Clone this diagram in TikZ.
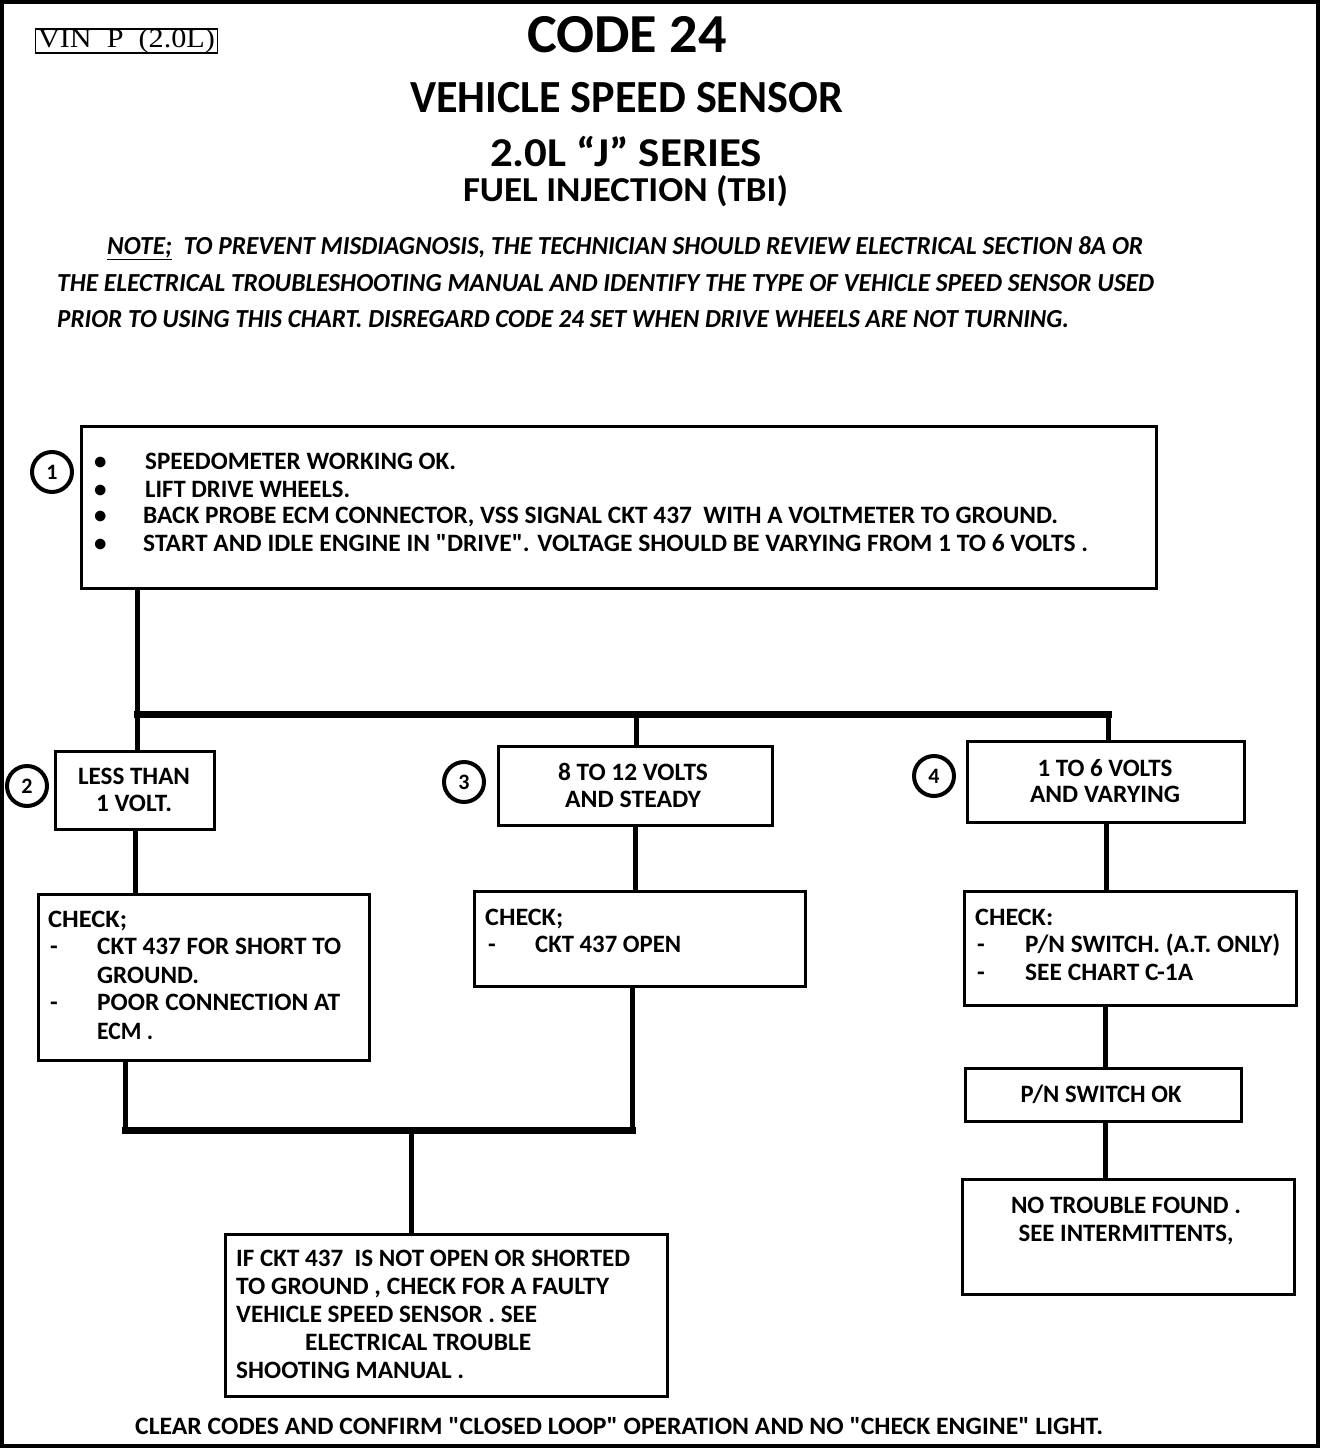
\documentclass[tikz,border=0pt]{standalone}
\usepackage{fontspec}
\setmainfont{Carlito}
\newfontfamily\cbf{Carlito}
\newfontfamily\vinf{Liberation Serif}
\usepackage{graphicx}
\newlength\fitlen
\newcommand\fitx[2]{\settowidth\fitlen{#2}\pgfmathsetmacro\fitsc{#1/\fitlen}\scalebox{\fitsc}[1]{#2}}
\tikzset{
 box/.style={draw, line width=3pt, inner sep=0pt, anchor=north west},
 wire/.style={line width=5pt},
 busw/.style={line width=7pt, line cap=rect},
 body/.style={inner sep=0pt, anchor=base west, font=\cbf\bfseries\fontsize{25}{30}\selectfont},
 cbody/.style={body, anchor=base},
 num/.style={circle, draw, line width=4pt, minimum size=40pt, inner sep=0pt, font=\cbf\bfseries\fontsize{22}{24}\selectfont},
 title/.style={inner sep=0pt, anchor=base},
 note/.style={inner sep=0pt, anchor=base west, font=\cbf\bfseries\itshape\fontsize{26}{30}\selectfont},
}
\begin{document}
\begin{tikzpicture}[x=1pt,y=-1pt]
\useasboundingbox (0,0) rectangle (1328,1450);
\fill[white] (0,0) rectangle (1328,1450);
\draw[line width=3.5pt] (2,2) rectangle (1318,1446);
% header
\node[draw, line width=1.8pt, minimum width=182pt, minimum height=24pt, inner sep=0pt, font=\vinf\fontsize{27}{28}\selectfont] (vin) at (126.5,41) {\fitx{177}{VIN\ \ P\ \ (2.0L)}};
\node[title, font=\cbf\bfseries\fontsize{55}{60}\selectfont] (t1) at (627,53) {\fitx{200}{CODE 24}};
\node[title, font=\cbf\bfseries\fontsize{46}{50}\selectfont] (t2) at (626.5,113) {\fitx{433}{VEHICLE SPEED SENSOR}};
\node[title, font=\cbf\bfseries\fontsize{41}{46}\selectfont, text depth=0pt] (t3) at (626,167) {\fitx{272}{2.0L “J” SERIES}};
\node[title, font=\cbf\bfseries\fontsize{35}{40}\selectfont, text height=23pt] (t4) at (625.5,201) {\fitx{325}{FUEL INJECTION (TBI)}};
\node[note] (n1) at (107,254) {\fitx{1036}{\underline{NOTE;}\ \ TO PREVENT MISDIAGNOSIS, THE TECHNICIAN SHOULD REVIEW ELECTRICAL SECTION 8A OR}};
\node[note] (n2) at (57,291) {\fitx{1097}{THE ELECTRICAL TROUBLESHOOTING MANUAL AND IDENTIFY THE TYPE OF VEHICLE SPEED SENSOR USED}};
\node[note] (n3) at (57,327) {\fitx{1012}{PRIOR TO USING THIS CHART. DISREGARD CODE 24 SET WHEN DRIVE WHEELS ARE NOT TURNING.}};
% box 1
\node[box, minimum width=1075pt, minimum height=162pt] (b1) at (80,425) {};
\node[num] (c1) at (52,472) {1};
\node[body] (l11) at (94,469) {\makebox[51pt][l]{\textbullet}\fitx{311}{SPEEDOMETER WORKING OK.}};
\node[body] (l12) at (94,497) {\makebox[51pt][l]{\textbullet}\fitx{205}{LIFT DRIVE WHEELS.}};
\node[body] (l13) at (94,523) {\makebox[49pt][l]{\textbullet}\fitx{915}{BACK PROBE ECM CONNECTOR, VSS SIGNAL CKT 437\ \ WITH A VOLTMETER TO GROUND.}};
\node[body] (l14) at (94,551) {\makebox[49pt][l]{\textbullet}\fitx{945}{START AND IDLE ENGINE IN "DRIVE". VOLTAGE SHOULD BE VARYING FROM 1 TO 6 VOLTS .}};
% level 2
\node[box, minimum width=159pt, minimum height=78pt] (b2) at (54,750) {};
\node[box, minimum width=274pt, minimum height=79pt] (b3) at (497,745) {};
\node[box, minimum width=277pt, minimum height=81pt] (b4) at (966,740) {};
\node[num] (c2) at (27,786) {2};
\node[num] (c3) at (464,782) {3};
\node[num] (c4) at (934,776) {4};
\node[cbody] (l21) at (134,784) {\fitx{112}{LESS THAN}};
\node[cbody] (l22) at (134,811) {\fitx{76}{1 VOLT.}};
\node[cbody] (l31) at (633,780) {\fitx{150}{8 TO 12 VOLTS}};
\node[cbody] (l32) at (633,807) {\fitx{136}{AND STEADY}};
\node[cbody] (l41) at (1105,776) {\fitx{135}{1 TO 6 VOLTS}};
\node[cbody] (l42) at (1105,802) {\fitx{150}{AND VARYING}};
% checks
\node[box, minimum width=331pt, minimum height=166pt] (k2) at (37,893) {};
\node[box, minimum width=331pt, minimum height=95pt] (k3) at (473,890) {};
\node[box, minimum width=332pt, minimum height=114pt] (k4) at (963,890) {};
\node[body] (m21) at (48,927) {\fitx{79}{CHECK;}};
\node[body] (m22) at (50,954) {\makebox[47pt][l]{-}\fitx{244}{CKT 437 FOR SHORT TO}};
\node[body] (m23) at (97,983) {\fitx{102}{GROUND.}};
\node[body] (m24) at (50,1010) {\makebox[47pt][l]{-}\fitx{243}{POOR CONNECTION AT}};
\node[body] (m25) at (97,1039) {\fitx{56}{ECM .}};
\node[body] (m31) at (485,925) {\fitx{78}{CHECK;}};
\node[body] (m32) at (488,952) {\makebox[47pt][l]{-}\fitx{146}{CKT 437 OPEN}};
\node[body] (m41) at (975,925) {\fitx{78}{CHECK:}};
\node[body] (m42) at (977,952) {\makebox[48pt][l]{-}\fitx{255}{P/N SWITCH. (A.T. ONLY)}};
\node[body] (m43) at (977,980) {\makebox[48pt][l]{-}\fitx{168}{SEE CHART C-1A}};
% bottom boxes
\node[box, minimum width=442pt, minimum height=162pt] (fin) at (224,1233) {};
\node[body] (f1) at (236,1266) {\fitx{394}{IF CKT 437\ \ IS NOT OPEN OR SHORTED}};
\node[body] (f2) at (236,1294) {\fitx{373}{TO GROUND , CHECK FOR A FAULTY}};
\node[body] (f3) at (236,1322) {\fitx{301}{VEHICLE SPEED SENSOR . SEE}};
\node[body] (f4) at (305,1350) {\fitx{226}{ELECTRICAL TROUBLE}};
\node[body] (f5) at (236,1378) {\fitx{228}{SHOOTING MANUAL .}};
\node[box, minimum width=276pt, minimum height=53pt] (pn) at (964,1067) {};
\node[cbody] (p1) at (1101,1102) {\fitx{161}{P/N SWITCH OK}};
\node[box, minimum width=332pt, minimum height=115pt] (ntf) at (961,1178) {};
\node[cbody] (q1) at (1126,1213) {\fitx{230}{NO TROUBLE FOUND .}};
\node[cbody] (q2) at (1126,1241) {\fitx{215}{SEE INTERMITTENTS,}};
\node[body] (z1) at (135,1434) {\fitx{968}{CLEAR CODES AND CONFIRM "CLOSED LOOP" OPERATION AND NO "CHECK ENGINE" LIGHT.}};
% connectors
\coordinate (busL) at (137,714);
\coordinate (busM) at (636,714);
\coordinate (busR) at (1108,714);
\coordinate (jL) at (125,1130);
\coordinate (jM) at (411,1130);
\coordinate (jR) at (632,1130);
\coordinate (rx) at (1105,0);
\draw[wire] (busL |- b1.south) -- (busL) -- (busL |- b2.north);
\draw[wire] (busM) -- (busM |- b3.north);
\draw[wire] (busR) -- (busR |- b4.north);
\draw[busw] (busL) -- (busR);
\draw[wire] (b2.south) -- (b2.south |- k2.north);
\draw[wire] (b3.south) -- (b3.south |- k3.north);
\draw[wire] (b4.south) -- (b4.south |- k4.north);
\draw[wire] (jL |- k2.south) -- (jL);
\draw[wire] (jR) -- (jR |- k3.south);
\draw[busw] (jL) -- (jR);
\draw[wire] (jM) -- (jM |- fin.north);
\draw[wire] (rx |- k4.south) -- (rx |- pn.north);
\draw[wire] (rx |- pn.south) -- (rx |- ntf.north);
\end{tikzpicture}
\end{document}
